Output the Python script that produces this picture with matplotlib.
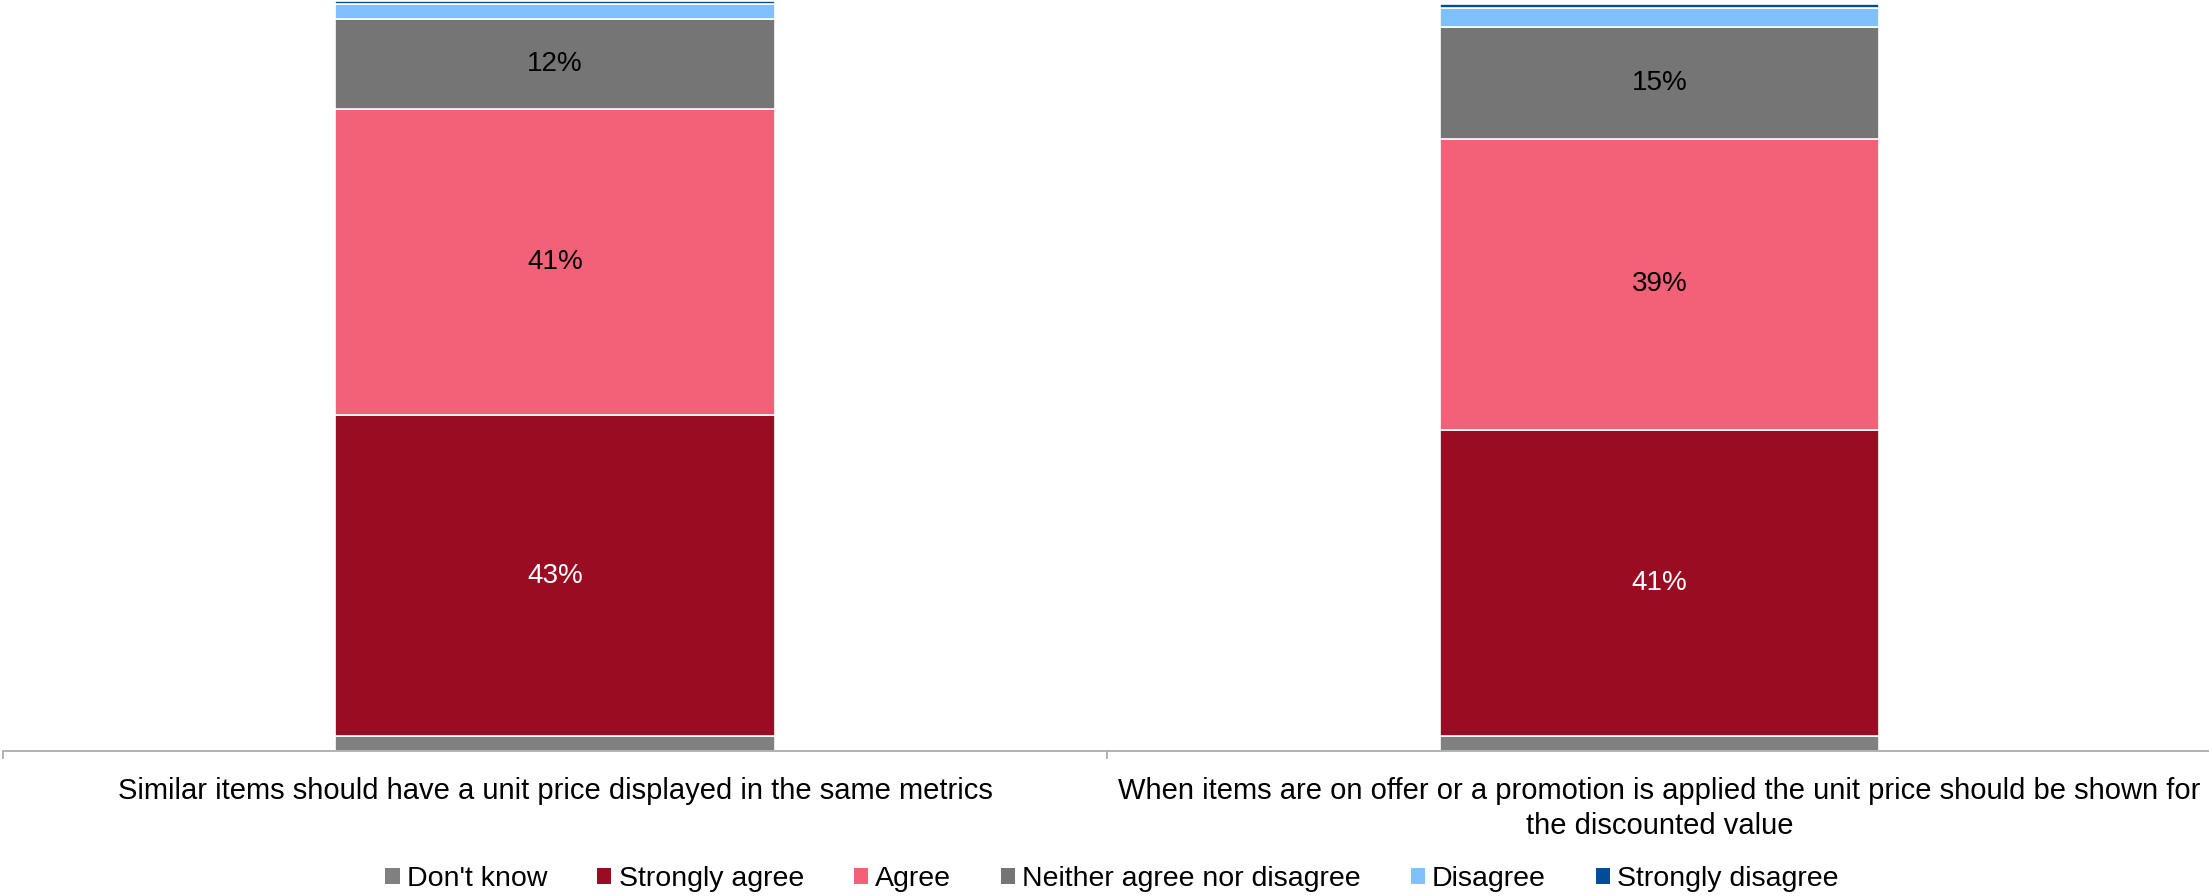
import matplotlib.pyplot as plt
from matplotlib.patches import Patch
import numpy as np

plt.rcParams['font.family'] = ['Liberation Sans', 'DejaVu Sans']

statements = [
    "Similar items should have a unit price displayed in the same metrics",
    "When items are on offer or a promotion is applied the unit price should be shown for\nthe discounted value",
]
responses = ["Don't know", "Strongly agree", "Agree",
             "Neither agree nor disagree", "Disagree", "Strongly disagree"]

# share of respondents (%) per statement, bottom to top
dont_know = [2, 2]
strongly_agree = [43, 41]
agree = [41, 39]
neither = [12, 15]
disagree = [2, 2.5]
strongly_disagree = [0.5, 0.5]

colors = ["#808080", "#9A0C22", "#F26178", "#757575", "#80C0FF", "#004C99"]
label_colors = [None, "white", "black", "black", None, None]

series = [dont_know, strongly_agree, agree, neither, disagree, strongly_disagree]

fig = plt.figure(figsize=(22.09, 8.96), dpi=100)
ax = fig.add_axes([0.00125, 0.1618, 1.0, 0.8382])

x = np.arange(len(statements))
bottom = np.zeros(len(statements))
for vals, col, lc in zip(series, colors, label_colors):
    vals = np.array(vals, dtype=float)
    bars = ax.bar(x, vals, width=0.398, bottom=bottom, color=col,
                  edgecolor="white", linewidth=1.2)
    if lc is not None:
        for rect, v in zip(bars, vals):
            ax.text(rect.get_x() + rect.get_width() / 2,
                    rect.get_y() + rect.get_height() / 2,
                    f"{v:.0f}%", ha="center", va="center",
                    color=lc, fontsize=20)
    bottom += vals

ax.set_xlim(-0.5, 1.5)
ax.set_ylim(0, 100.6)

for side in ("top", "right", "left"):
    ax.spines[side].set_visible(False)
ax.spines["bottom"].set_color("#A6A6A6")
ax.spines["bottom"].set_linewidth(1.2)

ax.set_yticks([])
ax.set_xticks(x)
ax.set_xticklabels(statements, fontsize=21, linespacing=1.3)
ax.tick_params(axis="x", which="major", length=0, pad=19)
ax.set_xticks([-0.5, 0.5, 1.5], minor=True)
ax.tick_params(axis="x", which="minor", length=6, width=1.2,
               color="#A6A6A6", direction="out")

handles = [Patch(facecolor=c, edgecolor="none") for c in colors]
fig.legend(handles, responses, loc="center", ncol=6,
           bbox_to_anchor=(1112 / 2209, 1 - 879 / 896),
           frameon=False, fontsize=20.5, handlelength=0.5, handleheight=0.5,
           handletextpad=0.25, columnspacing=1.75)

fig.savefig("out.png", dpi=100)
